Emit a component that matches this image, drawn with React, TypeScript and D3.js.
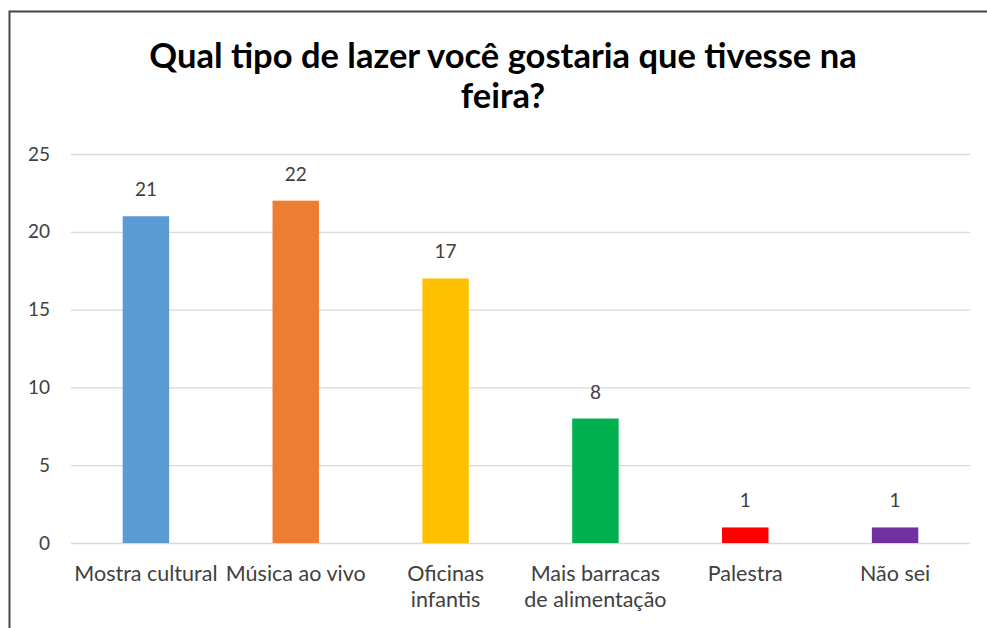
import React, { useEffect, useRef } from "react"
import * as d3 from "d3"

const categories = ["Mostra cultural", "Música ao vivo", "Oficinas infantis", "Mais barracas de alimentação", "Palestra", "Não sei"]
const categoryLines = [["Mostra cultural"], ["Música ao vivo"], ["Oficinas", "infantis"], ["Mais barracas", "de alimentação"], ["Palestra"], ["Não sei"]]
const values = [21, 22, 17, 8, 1, 1]
const colors = ["#5B9BD5", "#ED7D31", "#FFC000", "#00B050", "#FF0000", "#7030A0"]
const yTicks = [0, 5, 10, 15, 20, 25]
const titleLines = ["Qual tipo de lazer você gostaria que tivesse na", "feira?"]

const W = 987
const H = 628
const FONT = "Lato, 'Open Sans', sans-serif"

export default function App() {
  const ref = useRef<SVGSVGElement>(null)

  useEffect(() => {
    const svg = d3.select(ref.current)
    svg.selectAll("*").remove()

    svg.append("rect").attr("width", W).attr("height", H).attr("fill", "#fff")
    // chart border (bottom and right run off the page)
    svg.append("rect")
      .attr("x", 9.5).attr("y", 11.5)
      .attr("width", W + 20).attr("height", H + 20)
      .attr("fill", "none").attr("stroke", "#444").attr("stroke-width", 2)

    svg.append("g").selectAll("text")
      .data(titleLines)
      .enter().append("text")
      .attr("x", 503)
      .attr("y", (d, i) => 68 + i * 40)
      .attr("text-anchor", "middle")
      .style("font-family", FONT)
      .style("font-weight", "bold")
      .style("font-size", "34.5px")
      .attr("fill", "#000")
      .text(d => d)

    const left = 71, right = 970, top = 154, bottom = 543

    const x = d3.scaleBand().domain(categories).range([left, right]).paddingInner(0.69).paddingOuter(0.345)
    const y = d3.scaleLinear().domain([0, 25]).range([bottom, top])

    svg.append("g").selectAll("line")
      .data(yTicks)
      .enter().append("line")
      .attr("x1", left).attr("x2", right)
      .attr("y1", d => y(d) + 0.5).attr("y2", d => y(d) + 0.5)
      .attr("stroke", "#D9D9D9").attr("stroke-width", 1.3)

    svg.append("g").selectAll("text")
      .data(yTicks)
      .enter().append("text")
      .attr("x", 50)
      .attr("y", d => y(d))
      .attr("dy", "0.35em")
      .attr("text-anchor", "end")
      .style("font-family", FONT)
      .style("font-size", "19px")
      .attr("fill", "#404040")
      .text(d => d)

    svg.append("g").selectAll("rect")
      .data(values)
      .enter().append("rect")
      .attr("x", (d, i) => x(categories[i])!)
      .attr("width", x.bandwidth())
      .attr("y", d => y(d))
      .attr("height", d => bottom - y(d))
      .attr("fill", (d, i) => colors[i])

    svg.append("g").selectAll("text")
      .data(values)
      .enter().append("text")
      .attr("x", (d, i) => x(categories[i])! + x.bandwidth() / 2)
      .attr("y", d => y(d) - 20)
      .attr("text-anchor", "middle")
      .style("font-family", FONT)
      .style("font-size", "19px")
      .attr("fill", "#404040")
      .text(d => d)

    const xl = svg.append("g").selectAll("text")
      .data(categoryLines)
      .enter().append("text")
      .attr("text-anchor", "middle")
      .style("font-family", FONT)
      .style("font-size", "21.5px")
      .attr("fill", "#404040")
    xl.each(function (lines, i) {
      const cx = x(categories[i])! + x.bandwidth() / 2
      d3.select(this).selectAll("tspan")
        .data(lines)
        .enter().append("tspan")
        .attr("x", cx)
        .attr("y", (d, j) => 581 + j * 26)
        .text(d => d)
    })
  }, [])

  return (
    <div style={{ position: "absolute", left: 0, top: 0 }}>
      <svg ref={ref} width={W} height={H} style={{ display: "block" }} />
    </div>
  )
}
